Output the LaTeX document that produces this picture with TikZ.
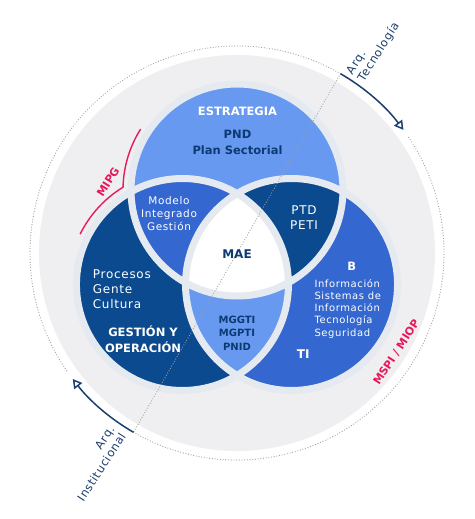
\documentclass[tikz,border=0pt]{standalone}
\usepackage{fontspec}
\setmainfont{DejaVu Sans}
\newfontfamily\regf[LetterSpace=6]{DejaVu Sans}
\usetikzlibrary{arrows.meta}
\definecolor{bgdisc}{RGB}{239,239,241}
\definecolor{gapc}{RGB}{229,234,241}
\definecolor{lightb}{RGB}{103,153,240}
\definecolor{medb}{RGB}{52,103,208}
\definecolor{navyb}{RGB}{11,74,142}
\definecolor{txtnavy}{RGB}{12,58,115}
\definecolor{pinkc}{RGB}{232,25,90}
\definecolor{arrowc}{RGB}{27,63,110}
\definecolor{dotc}{RGB}{160,160,160}
\begin{document}
\begin{tikzpicture}[x=1pt,y=1pt,
  dotline/.style={dotc, line width=1.2pt, line cap=round, dash pattern=on 0pt off 2.7pt},
  gapline/.style={gapc, line width=7pt},
  arcarrow/.style={arrowc, line width=1.5pt, -{Triangle[open,length=9pt,width=10pt,line width=1.5pt]}},
  boldtxt/.style={inner sep=0pt, align=center, font=\fontsize{11.5}{15.5}\selectfont\bfseries},
  regtxt/.style={inner sep=0pt, font=\fontsize{12}{15}\selectfont\regf},
  pinklab/.style={inner sep=0pt, text=pinkc, font=\fontsize{11}{13}\selectfont\bfseries},
  arqlab/.style={inner sep=0pt, text=arrowc, font=\fontsize{11.5}{13.5}\selectfont\regf}
]
\useasboundingbox (-237,-266) rectangle (237,253);
\fill[white] (-237,-266) rectangle (237,253);
% background disc
\fill[bgdisc] (0,0) circle (198);
% dotted outer circle
\draw[dotline] (60:207) arc[start angle=60, end angle=215, radius=207];
\draw[dotline] (240:207) arc[start angle=240, end angle=394, radius=207];
% Venn circles
\coordinate (T) at (0,63);
\coordinate (L) at (-54.56,-31.5);
\coordinate (Rc) at (54.56,-31.5);
\fill[lightb] (T) circle (106);
\fill[navyb] (L) circle (106);
\fill[medb] (Rc) circle (106);
\begin{scope}
  \clip (T) circle (106);
  \fill[medb] (L) circle (106);
  \fill[navyb] (Rc) circle (106);
\end{scope}
\begin{scope}
  \clip (L) circle (106);
  \fill[lightb] (Rc) circle (106);
\end{scope}
\begin{scope}
  \clip (T) circle (106);
  \clip (L) circle (106);
  \fill[white] (Rc) circle (106);
\end{scope}
\draw[gapline] (T) circle (106) (L) circle (106) (Rc) circle (106);
% diagonal dotted line
\coordinate (tA) at (60:207);
\coordinate (tB) at (240:207);
\draw[dotline] (tA) -- (tB);
% arrows
\draw[arcarrow] (tA) arc[start angle=60, end angle=36.5, radius=207];
\draw[arcarrow] (tB) arc[start angle=240, end angle=217.5, radius=207];
\node[arqlab, rotate=58, anchor=west, align=left] (arqT) at (56:212) {Arq.\\Tecnología};
\node[arqlab, rotate=57, anchor=east, align=right] (arqI) at (236:214) {Arq.\\Institucional};
% MIPG arc
\draw[pinkc, line width=1.4pt] ([shift={(0,63)}]147.7:114) arc[start angle=147.7, end angle=178.6, radius=114]
  arc[start angle=121.4, end angle=153.8, radius=114];
\node[pinklab, rotate=58] (mipg) at (-129,71) {MIPG};
\node[pinklab, rotate=57] (mspi) at (159.5,-99.5) {MSPI / MIOP};
% texts
\node[boldtxt, text=white] (estr) at (0.5,142) {ESTRATEGIA};
\node[boldtxt, text=txtnavy, font=\fontsize{11.5}{16}\selectfont\bfseries] (pnd) at (0.5,111) {PND\\Plan Sectorial};
\node[regtxt, text=white, align=center, font=\fontsize{10.5}{13}\selectfont\regf] (mig) at (-68,39) {Modelo\\Integrado\\Gestión};
\node[regtxt, text=white, align=center, font=\fontsize{12}{15}\selectfont\regf] (ptd) at (67,35) {PTD\\PETI};
\node[boldtxt, text=txtnavy, font=\fontsize{12}{14}\selectfont\bfseries] (mae) at (0,-1) {MAE};
\node[boldtxt, text=txtnavy, font=\fontsize{10}{13.5}\selectfont\bfseries] (mgg) at (0,-80) {MGGTI\\MGPTI\\PNID};
\node[regtxt, text=white, align=left, anchor=west] (proc) at (-144.3,-36) {Procesos\\Gente\\Cultura};
\node[boldtxt, text=white, font=\fontsize{11.5}{15.6}\selectfont\bfseries] (gest) at (-94,-86.5) {GESTIÓN Y\\OPERACIÓN};
\node[boldtxt, text=white] (bnode) at (114.7,-13.7) {B};
\node[regtxt, text=white, align=left, anchor=west, font=\fontsize{10}{12.3}\selectfont\regf] (info) at (77.3,-55.7) {Información\\Sistemas de\\Información\\Tecnología\\Seguridad};
\node[boldtxt, text=white, font=\fontsize{12}{14}\selectfont\bfseries] (ti) at (66.3,-101.3) {TI};
\end{tikzpicture}
\end{document}
